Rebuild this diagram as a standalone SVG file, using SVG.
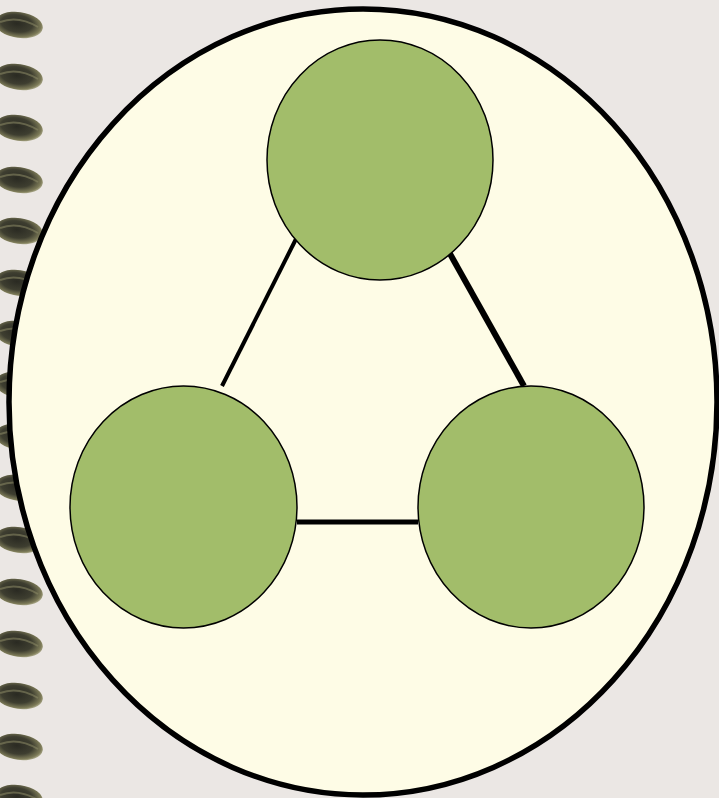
<svg xmlns="http://www.w3.org/2000/svg" width="719" height="798" viewBox="0 0 719 798">
<defs>
<radialGradient id="ring" cx="0.45" cy="0.45" r="0.6">
<stop offset="0" stop-color="#2a2a22"/>
<stop offset="0.55" stop-color="#3e3e30"/>
<stop offset="0.85" stop-color="#7d7b58"/>
<stop offset="1" stop-color="#c4c2a6"/>
</radialGradient>
<g id="ringmark"><ellipse cx="19" cy="0" rx="24" ry="13" fill="url(#ring)" transform="rotate(8 19 0)"/><path d="M0,-3 Q18,-10 38,2" stroke="#8c8a66" stroke-width="2" fill="none" opacity="0.55"/></g>
</defs>
<style>
.node{fill:#A2BD6A;stroke:#000;stroke-width:1.5}
.edge{stroke:#000;fill:none}
</style>
<rect width="719" height="798" fill="#EBE7E4"/>
<g id="binding">
<use href="#ringmark" x="0" y="25"/>
<use href="#ringmark" x="0" y="77"/>
<use href="#ringmark" x="0" y="128"/>
<use href="#ringmark" x="0" y="180"/>
<use href="#ringmark" x="0" y="231"/>
<use href="#ringmark" x="0" y="283"/>
<use href="#ringmark" x="0" y="334"/>
<use href="#ringmark" x="0" y="385"/>
<use href="#ringmark" x="0" y="437"/>
<use href="#ringmark" x="0" y="488"/>
<use href="#ringmark" x="0" y="540"/>
<use href="#ringmark" x="0" y="592"/>
<use href="#ringmark" x="0" y="644"/>
<use href="#ringmark" x="0" y="696"/>
<use href="#ringmark" x="0" y="747"/>
<use href="#ringmark" x="0" y="798"/>
</g>
<g id="container">
<ellipse cx="363" cy="402" rx="354" ry="393" fill="#FEFCE6" stroke="#000" stroke-width="5.5"/>
</g>
<g id="connectors">
<line class="edge" x1="297" y1="237" x2="222" y2="386" stroke-width="4"/>
<line class="edge" x1="449" y1="252" x2="524" y2="386" stroke-width="6"/>
<line class="edge" x1="297" y1="522" x2="418" y2="522" stroke-width="5"/>
</g>
<g id="node-top"><ellipse class="node" cx="380" cy="160" rx="113" ry="120"/></g>
<g id="node-left"><ellipse class="node" cx="183.5" cy="507" rx="113.5" ry="121"/></g>
<g id="node-right"><ellipse class="node" cx="531" cy="507" rx="113" ry="121"/></g>
</svg>
